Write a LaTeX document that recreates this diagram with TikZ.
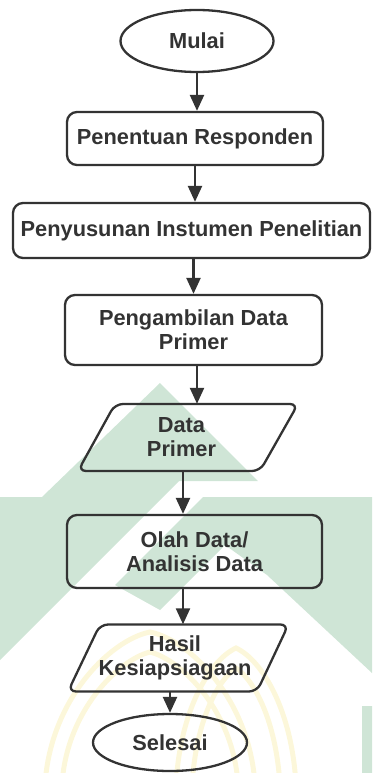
\documentclass[tikz,border=0pt]{standalone}
\usepackage{fontspec}
\setmainfont{Liberation Sans}
\usetikzlibrary{shapes.geometric,arrows.meta}
\definecolor{ink}{HTML}{333333}
\definecolor{wmgreen}{HTML}{CFE5D6}
\definecolor{wmyellow}{HTML}{FCF7DA}
\tikzset{
  labeltext/.style={font=\fontsize{21.8pt}{24pt}\selectfont\bfseries, text=ink, align=center, inner sep=2pt},
  flowline/.style={line width=2.3pt, draw=ink},
  stepbox/.style={labeltext, flowline, rounded corners=10pt},
  terminal/.style={labeltext, flowline, ellipse, inner sep=0pt},
  iobox/.style={labeltext, inner sep=0pt},
  arrowline/.style={flowline, -{Triangle[length=16pt,width=14pt]}},
  wmband/.style={fill=wmgreen, draw=none},
  wmarch/.style={draw=wmyellow, line width=5pt}
}
\begin{document}
\begin{tikzpicture}[x=1pt,y=-1pt]
\useasboundingbox (0,0) rectangle (372,773);

% faint background emblem
\begin{scope}
  \clip (0,0) rectangle (372,773);
  \fill[wmband] (160,383) -- (258,481) -- (179,481) -- (0,660) -- (0,497) -- (42,497) -- cycle;
  \fill[wmband] (203,497) -- (372,497) -- (372,673) -- (267,575) -- (225,545) -- (160,610) -- (115,585) -- cycle;
  \fill[wmband] (362,706) rectangle (380,780);
  \draw[wmarch] (45,785) .. controls (50,700) and (110,640) .. (150,632) .. controls (190,640) and (250,700) .. (255,785);
  \draw[wmarch] (62,785) .. controls (66,712) and (118,660) .. (150,652) .. controls (182,660) and (234,712) .. (238,785);
  \draw[wmarch] (176,785) .. controls (180,710) and (210,660) .. (236,648) .. controls (262,660) and (292,710) .. (296,785);
  \draw[wmarch] (192,785) .. controls (196,720) and (218,680) .. (236,668) .. controls (254,680) and (276,720) .. (280,785);
\end{scope}

% process steps
\node[terminal, minimum width=153pt, minimum height=62pt] (mulai) at (197,41) {Mulai};
\node[stepbox, minimum width=256pt, minimum height=53pt] (tentu) at (195,138.5) {Penentuan Responden};
\node[stepbox, minimum width=357pt, minimum height=55pt] (susun) at (191.5,230.5) {Penyusunan Instumen Penelitian};
\node[stepbox, minimum width=257pt, minimum height=70pt] (ambil) at (193.5,330) {Pengambilan Data\\Primer};

% data: primary data (parallelogram drawn around its label)
\node[iobox, minimum height=67pt] (dprimer) at (181.5,437.5) {Data\\Primer};
\draw[flowline, rounded corners=8pt]
  ([shift={(-103.5,33.5)}]dprimer.center) -- ([shift={(-66.5,-33.5)}]dprimer.center)
  -- ([shift={(116.5,-33.5)}]dprimer.center) -- ([shift={(78.5,33.5)}]dprimer.center) -- cycle;

\node[stepbox, minimum width=255pt, minimum height=73pt] (olah) at (194.5,551.5) {Olah Data/\\Analisis Data};

% data: readiness results
\node[iobox, minimum height=67pt] (hasil) at (175,658) {Hasil\\Kesiapsiagaan};
\draw[flowline, rounded corners=8pt]
  ([shift={(-107,33.5)}]hasil.center) -- ([shift={(-75,-33.5)}]hasil.center)
  -- ([shift={(113.5,-33.5)}]hasil.center) -- ([shift={(82,33.5)}]hasil.center) -- cycle;

\node[terminal, minimum width=154pt, minimum height=57pt] (selesai) at (170,742.5) {Selesai};

% connectors
\draw[arrowline] (mulai.south) -- (mulai.south |- tentu.north);
\draw[arrowline] (tentu.south) -- (tentu.south |- susun.north);
\draw[arrowline] (ambil.north |- susun.south) -- (ambil.north);
\draw[arrowline] ([xshift=3.5pt]ambil.south) -- ([xshift=3.5pt]ambil.south |- dprimer.north);
\draw[arrowline] ([xshift=1.5pt]dprimer.south) -- ([xshift=1.5pt]dprimer.south |- olah.north);
\draw[arrowline] ([xshift=-11.5pt]olah.south) -- ([xshift=-11.5pt]olah.south |- hasil.north);
\draw[arrowline] (selesai.north |- hasil.south) -- (selesai.north);
\end{tikzpicture}
\end{document}
